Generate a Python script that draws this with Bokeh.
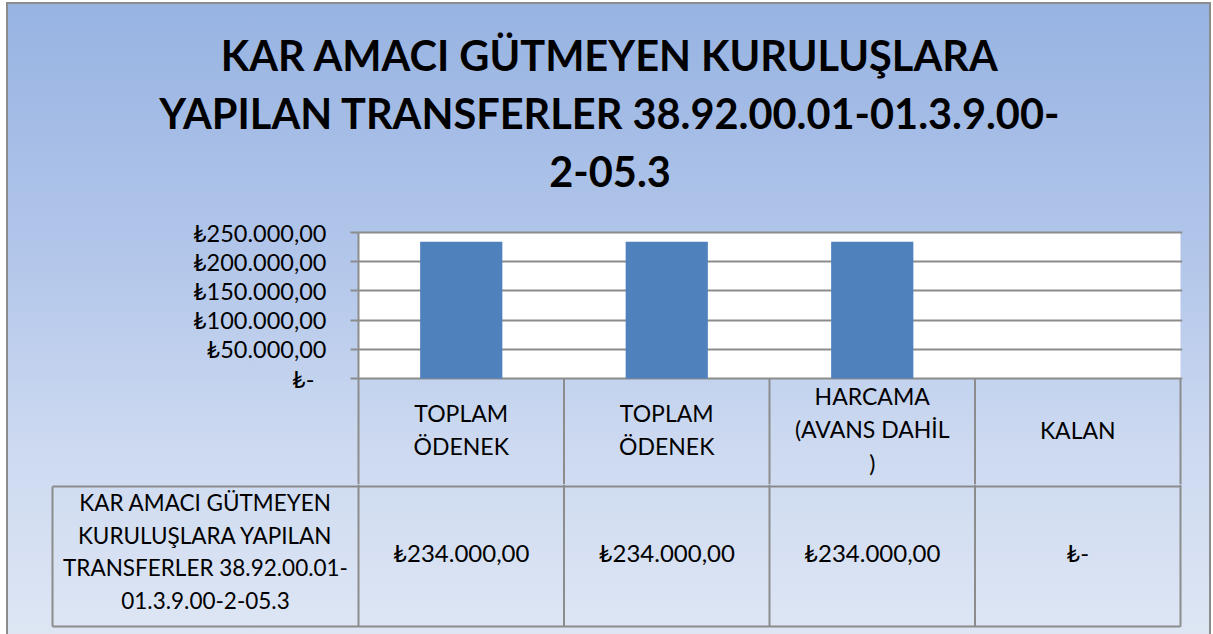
from bokeh.plotting import figure
from bokeh.models import Range1d, FixedTicker, CustomJSTickFormatter, BoxAnnotation, ColumnDataSource
from bokeh.layouts import column
from bokeh.core.properties import value
from bokeh.embed import file_html
from bokeh.resources import INLINE

# ---------------- data ----------------
TITLE_LINES = ["KAR AMACI GÜTMEYEN KURULUŞLARA",
               "YAPILAN TRANSFERLER 38.92.00.01-01.3.9.00-",
               "2-05.3"]
CATEGORIES = ["TOPLAM\nÖDENEK", "TOPLAM\nÖDENEK", "HARCAMA\n(AVANS DAHİL\n)", "KALAN"]
SERIES_NAME = "KAR AMACI GÜTMEYEN\nKURULUŞLARA YAPILAN\nTRANSFERLER 38.92.00.01-\n01.3.9.00-2-05.3"
VALUES = [234000, 234000, 234000, 0]
Y_TICKS = [0, 50000, 100000, 150000, 200000, 250000]


def fmt_try(v):
    if v == 0:
        return "₺-"
    s = f"{v:,.2f}".replace(",", "X").replace(".", ",").replace("X", ".")
    return "₺" + s


# ---------------- style / layout constants ----------------
FONT = "Lato"
GRAY = "#8C8C8C"
BAR = "#4F81BD"
W = 1201
n = len(CATEGORIES)
xc = [i + 0.5 for i in range(n)]
Y_MAX = Y_TICKS[-1]
K = Y_MAX / 146.0          # value units per pixel
PX = 1 / 205.5             # category units per pixel
X_LEFT = -306 / 205.5      # row-header column width in category units

P0_H = 202
P1_H = 278
P2_H = 150
BELOW = 106                # px of the header row below the zero line (inside chart figure)
HDR_LINE = 2
ROW_END = 142

common = dict(output_backend="svg", toolbar_location=None, border_fill_color=None,
              border_fill_alpha=0, outline_line_color=None)

# ---------------- title ----------------
p0 = figure(width=W, height=P0_H, x_range=Range1d(0, 1), y_range=Range1d(P0_H, 0),
            min_border_left=2, min_border_right=0, min_border_top=0, min_border_bottom=0,
            background_fill_color=None, **common)
p0.frame_align = False
p0.axis.visible = False
p0.grid.visible = False
p0.text(x=[0.5] * len(TITLE_LINES), y=[50, 108.5, 167], text=TITLE_LINES,
        text_font=value(FONT), text_font_style="bold", text_font_size="41.5px",
        text_align="center", text_baseline="middle", text_color="black")

# ---------------- chart + header row of the data table ----------------
p1 = figure(width=W, height=P1_H, x_range=Range1d(0, n + 2 * PX),
            y_range=Range1d(-BELOW * K, Y_MAX + 20 * K),
            min_border_left=350, min_border_right=27, min_border_top=6, min_border_bottom=0,
            background_fill_color=None, **common)
p1.frame_align = False
p1.xaxis.visible = False
p1.xgrid.visible = False
p1.add_layout(BoxAnnotation(left=0, right=n, bottom=0, top=Y_MAX, fill_color="white",
                            fill_alpha=1, line_color=None, level="image"))
p1.ygrid.grid_line_color = GRAY
p1.ygrid.grid_line_width = 2
p1.ygrid.ticker = FixedTicker(ticks=Y_TICKS)

ax = p1.yaxis[0]
ax.ticker = FixedTicker(ticks=Y_TICKS)
ax.formatter = CustomJSTickFormatter(code="""
if (tick == 0) { return "\u20ba-\u00a0\u00a0"; }
const s = Math.round(tick).toString().replace(/\\B(?=(\\d{3})+(?!\\d))/g, ".");
return "\u20ba" + s + ",00";
""")
ax.major_label_text_font = FONT
ax.major_label_text_font_size = "23.5px"
ax.major_label_text_color = "black"
ax.major_label_standoff = 24
ax.axis_line_color = GRAY
ax.axis_line_width = 2
ax.major_tick_line_color = GRAY
ax.major_tick_line_width = 2
ax.major_tick_out = 8
ax.major_tick_in = 0
ax.minor_tick_line_color = None
ax.bounds = (-BELOW * K, Y_MAX)

src = ColumnDataSource(dict(x=xc, top=VALUES))
p1.vbar(x="x", top="top", width=0.4, source=src, fill_color=BAR, line_color=None)
# category-column separators of the header row
p1.segment(x0=[float(i) for i in range(1, n + 1)], y0=[0] * n,
           x1=[float(i) for i in range(1, n + 1)], y1=[-BELOW * K] * n,
           line_color=GRAY, line_width=2)
p1.text(x=xc, y=[-51 * K] * n, text=CATEGORIES, text_font=value(FONT),
        text_font_size="23px", text_align="center", text_baseline="middle",
        text_line_height=1.21, text_color="black")

# ---------------- data row of the table ----------------
p2 = figure(width=W, height=P2_H, x_range=Range1d(X_LEFT - 2 * PX, n + 2 * PX),
            y_range=Range1d(P2_H, 0),
            min_border_left=42, min_border_right=27, min_border_top=0, min_border_bottom=0,
            background_fill_color=None, **common)
p2.frame_align = False
p2.axis.visible = False
p2.grid.visible = False

x0 = [float(i) for i in range(n + 1)] + [X_LEFT, X_LEFT, X_LEFT]
x1 = [float(i) for i in range(n + 1)] + [X_LEFT, n, n]
y0 = [0] * (n + 1) + [HDR_LINE, HDR_LINE, ROW_END]
y1 = [ROW_END] * (n + 1) + [ROW_END, HDR_LINE, ROW_END]
p2.segment(x0=x0, y0=y0, x1=x1, y1=y1, line_color=GRAY, line_width=2)

p2.text(x=[X_LEFT / 2], y=[67], text=[SERIES_NAME], text_font=value(FONT),
        text_font_size="22.5px", text_align="center", text_baseline="middle",
        text_line_height=1.22, text_color="black")
p2.text(x=xc, y=[68] * n, text=[fmt_try(v) for v in VALUES], text_font=value(FONT),
        text_font_size="24px", text_align="center", text_baseline="middle",
        text_color="black")

layout = column(p0, p1, p2, spacing=0, styles={
    "margin": "2px 0 0 6px",
    "border": "2px solid #8C8C8C",
    "border-bottom": "none",
    "background": "linear-gradient(180deg, #97B3E2 0%, #B2C6EA 40%, #CCD9F0 70%, #DEE6F4 100%)",
    "background-attachment": "fixed",
})

with open("out.html", "w", encoding="utf-8") as f:
    f.write(file_html(layout, INLINE))
